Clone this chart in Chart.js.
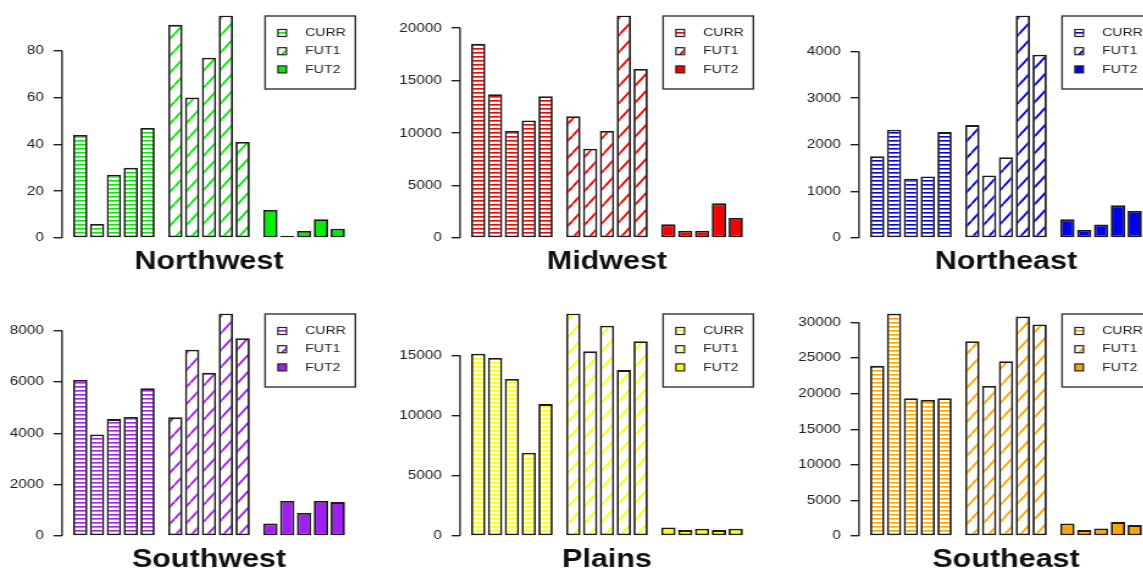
<!DOCTYPE html>
<html>
<head>
<meta charset="utf-8">
<script src="https://cdn.jsdelivr.net/npm/chart.js@4.4.1/dist/chart.umd.min.js"></script>
<style>
  html, body { margin: 0; padding: 0; background: #fff; }
  body { width: 1143px; height: 576px; overflow: hidden; position: relative; }
  canvas { position: absolute; }
</style>
</head>
<body>
<script>
// data
const regions = ['Northwest', 'Midwest', 'Northeast', 'Southwest', 'Plains', 'Southeast'];
const seriesNames = ['CURR', 'FUT1', 'FUT2'];
const groupPositions = [1, 2, 3];

const northwestCURR = [44, 6, 27, 30, 47];
const northwestFUT1 = [91, 60, 77, 95, 41];
const northwestFUT2 = [12, 1, 3, 8, 4];
const northwestTicks = [0, 20, 40, 60, 80];

const midwestCURR = [18500, 13700, 10200, 11200, 13500];
const midwestFUT1 = [11600, 8500, 10200, 21200, 16100];
const midwestFUT2 = [1300, 700, 700, 3300, 1900];
const midwestTicks = [0, 5000, 10000, 15000, 20000];

const northeastCURR = [1750, 2320, 1270, 1320, 2270];
const northeastFUT1 = [2420, 1340, 1730, 4770, 3930];
const northeastFUT2 = [400, 170, 290, 700, 580];
const northeastTicks = [0, 1000, 2000, 3000, 4000];

const southwestCURR = [6070, 3950, 4550, 4630, 5750];
const southwestFUT1 = [4620, 7250, 6350, 8660, 7700];
const southwestFUT2 = [490, 1360, 900, 1360, 1320];
const southwestTicks = [0, 2000, 4000, 6000, 8000];

const plainsCURR = [15130, 14780, 13030, 6920, 10950];
const plainsFUT1 = [18470, 15330, 17460, 13770, 16170];
const plainsFUT2 = [710, 490, 600, 490, 600];
const plainsTicks = [0, 5000, 10000, 15000];

const southeastCURR = [23900, 31250, 19350, 19120, 19350];
const southeastFUT1 = [27360, 21070, 24540, 30830, 29720];
const southeastFUT2 = [1750, 830, 1070, 1950, 1530];
const southeastTicks = [0, 5000, 10000, 15000, 20000, 25000, 30000];

const panelValues = [
  [northwestCURR, northwestFUT1, northwestFUT2],
  [midwestCURR, midwestFUT1, midwestFUT2],
  [northeastCURR, northeastFUT1, northeastFUT2],
  [southwestCURR, southwestFUT1, southwestFUT2],
  [plainsCURR, plainsFUT1, plainsFUT2],
  [southeastCURR, southeastFUT1, southeastFUT2]
];
const panelTicks = [northwestTicks, midwestTicks, northeastTicks, southwestTicks, plainsTicks, southeastTicks];

const regionColors = ['#00ee00', '#f80000', '#0000f0', '#a020f0', '#ffff00', '#ffa500'];

// the picture is stretched sideways, so each canvas is drawn narrow and widened by css
const CW = 328, CH = 280, PAGE_W = 400;
const SX = PAGE_W / CW;
const colLeft = [0, 398, 797];
const rowTop = [0, 298];

Chart.defaults.font.family = '"Liberation Sans", Arial, sans-serif';

function hatch(ctx, kind, color) {
  const tile = document.createElement('canvas');
  const t = tile.getContext('2d');
  if (kind === 'h') {
    tile.width = 8; tile.height = 4;
    t.fillStyle = '#fff';
    t.fillRect(0, 0, 8, 4);
    t.fillStyle = color;
    t.fillRect(0, 0, 8, 1.6);
  } else {
    const w = 13, h = 17;
    tile.width = w; tile.height = h;
    t.fillStyle = '#fff';
    t.fillRect(0, 0, w, h);
    t.strokeStyle = color;
    t.lineWidth = 1.9;
    for (const dx of [-w, 0, w]) {
      t.beginPath();
      t.moveTo(dx, h);
      t.lineTo(dx + w, 0);
      t.stroke();
    }
  }
  return ctx.createPattern(tile, 'repeat');
}

const axisLine = {
  id: 'axisLine',
  afterDraw(chart) {
    const y = chart.scales.y;
    const ticks = y.ticks;
    const ctx = chart.ctx;
    ctx.save();
    ctx.strokeStyle = '#222';
    ctx.lineWidth = 1.4;
    ctx.beginPath();
    ctx.moveTo(y.right, y.getPixelForValue(ticks[0].value));
    ctx.lineTo(y.right, y.getPixelForValue(ticks[ticks.length - 1].value));
    ctx.stroke();
    ctx.restore();
  }
};

function insetLegend(fills) {
  return {
    id: 'insetLegend',
    afterDraw(chart) {
      const { ctx, chartArea } = chart;
      const w = 75, h = 74;
      const x0 = chartArea.right - w, y0 = chartArea.top;
      ctx.save();
      ctx.strokeStyle = '#333';
      ctx.lineWidth = 1.4;
      ctx.strokeRect(x0 + 0.5, y0 + 0.5, w - 1, h - 1);
      ctx.font = '11.5px "Liberation Sans", Arial, sans-serif';
      ctx.textBaseline = 'middle';
      seriesNames.forEach((label, i) => {
        const cy = y0 + 17.5 + i * 18.2;
        ctx.fillStyle = fills[i];
        ctx.fillRect(x0 + 11, cy - 3.5, 7, 7);
        ctx.strokeStyle = '#222';
        ctx.lineWidth = 1.2;
        ctx.strokeRect(x0 + 11, cy - 3.5, 7, 7);
        ctx.fillStyle = '#222';
        ctx.fillText(label, x0 + 33.4, cy);
      });
      ctx.restore();
    }
  };
}

function drawPanel(idx) {
  const canvas = document.createElement('canvas');
  canvas.width = CW;
  canvas.height = CH;
  canvas.style.width = PAGE_W + 'px';
  canvas.style.height = CH + 'px';
  canvas.style.left = colLeft[idx % 3] + 'px';
  canvas.style.top = rowTop[Math.floor(idx / 3)] + 'px';
  document.body.appendChild(canvas);

  const ctx = canvas.getContext('2d');
  const values = panelValues[idx];
  const color = regionColors[idx];
  const fills = [hatch(ctx, 'h', color), hatch(ctx, 'd', color), color];
  const tickValues = panelTicks[idx];

  // one dataset per bar slot so each series forms its own group
  const datasets = values[0].map((_, k) => ({
    data: groupPositions.map((x, g) => ({ x, y: values[g][k] })),
    backgroundColor: fills,
    borderColor: '#1a1a1a',
    borderWidth: 1.8,
    borderSkipped: false,
    barPercentage: 0.85,
    categoryPercentage: 0.885
  }));

  new Chart(ctx, {
    type: 'bar',
    data: { datasets },
    options: {
      responsive: false,
      animation: false,
      devicePixelRatio: 1,
      events: [],
      layout: { autoPadding: false, padding: { left: 0, top: 13, right: 36.1, bottom: 0 } },
      plugins: { legend: { display: false }, tooltip: { enabled: false } },
      scales: {
        x: {
          type: 'linear',
          offset: false,
          min: 0.454,
          max: 3.546,
          afterBuildTicks: (s) => { s.ticks = groupPositions.map(v => ({ value: v })); },
          afterFit: (s) => { s.height = 42; },
          ticks: { display: false },
          grid: { display: false, offset: false },
          border: { display: false },
          title: {
            display: true,
            text: regions[idx],
            color: '#111',
            font: { size: 25, weight: 'bold' },
            padding: { top: 0, bottom: 3 }
          }
        },
        y: {
          min: 0,
          max: Math.max(...values.flat()),
          afterBuildTicks: (s) => { s.ticks = tickValues.map(v => ({ value: v })); },
          afterFit: (s) => { s.width = 62 / SX; },
          ticks: {
            color: '#222',
            padding: 8,
            font: { size: 12.5 },
            callback: (v) => String(v)
          },
          grid: {
            drawOnChartArea: false,
            drawTicks: true,
            tickLength: 7,
            color: '#222',
            lineWidth: 1.4
          },
          border: { display: false }
        }
      }
    },
    plugins: [axisLine, insetLegend(fills)]
  });
}

regions.forEach((_, i) => drawPanel(i));
</script>
</body>
</html>
